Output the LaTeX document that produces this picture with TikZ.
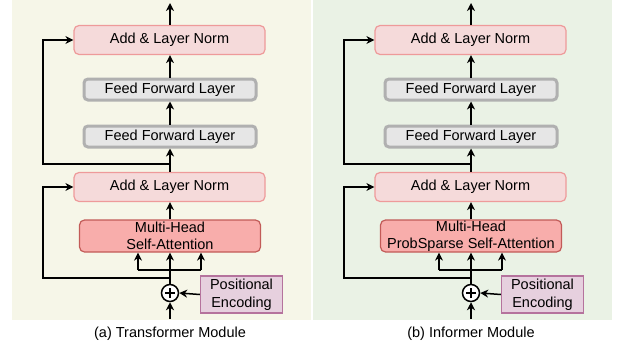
\documentclass[tikz,border=0pt]{standalone}
\usepackage{fontspec}
\setmainfont{Liberation Sans}
\usetikzlibrary{arrows.meta}
\definecolor{bgA}{HTML}{F6F6E8}
\definecolor{bgB}{HTML}{EAF2E5}
\definecolor{normfill}{HTML}{F5DADA}
\definecolor{normdraw}{HTML}{EE9A9A}
\definecolor{fflfill}{HTML}{E6E6E6}
\definecolor{ffldraw}{HTML}{B0B0B0}
\definecolor{mhafill}{HTML}{F8ADAB}
\definecolor{mhadraw}{HTML}{C25B58}
\definecolor{pefill}{HTML}{E6D0DE}
\definecolor{pedraw}{HTML}{B5739D}
\tikzset{
  x=1pt, y=-1pt,
  every node/.style={font=\fontsize{14.5}{17.5}\selectfont, inner sep=0pt, align=center},
  normbox/.style={draw=normdraw, fill=normfill, line width=1.2pt, rounded corners=5pt, minimum width=191pt, minimum height=29pt},
  fflbox/.style={draw=ffldraw, fill=fflfill, line width=3pt, rounded corners=4pt, minimum width=172pt, minimum height=21pt},
  mhabox/.style={draw=mhadraw, fill=mhafill, line width=1.2pt, rounded corners=5pt, minimum width=181pt, minimum height=32pt},
  pebox/.style={draw=pedraw, fill=pefill, line width=1.2pt, minimum width=82pt, minimum height=37pt},
  plusnode/.style={draw, circle, line width=1.5pt, minimum size=17pt, fill=white},
  arr/.style={-{Stealth[length=8pt,width=8pt,inset=2.5pt]}, line width=1.5pt},
  ln/.style={line width=1.5pt},
}
\begin{document}
\begin{tikzpicture}
\useasboundingbox (0,0) rectangle (618,351);
\fill[bgA] (12,0) rectangle (311,320);
\fill[bgB] (313,0) rectangle (612,320);

\foreach \dx/\p/\mt/\cap in {0/a/{Multi-Head\\Self-Attention}/{(a) Transformer Module},301/b/{Multi-Head\\ProbSparse Self-Attention}/{(b) Informer Module}}{
  \begin{scope}[xshift=\dx]
  \node[normbox] (\p top) at (169.5,40) {Add \& Layer Norm};
  \node[fflbox] (\p ffb) at (170,89.5) {Feed Forward Layer};
  \node[fflbox] (\p ffa) at (170,136.5) {Feed Forward Layer};
  \node[normbox] (\p bot) at (169.5,187) {Add \& Layer Norm};
  \node[mhabox] (\p mha) at (170,236) {\mt};
  \node[plusnode] (\p plus) at (170,293) {};
  \draw[line width=1.5pt] ([xshift=-5pt]\p plus.center) -- ([xshift=5pt]\p plus.center)
        ([yshift=-5pt]\p plus.center) -- ([yshift=5pt]\p plus.center);
  \node[pebox] (\p pe) at (241.5,294.5) {Positional\\Encoding};
  \node (\p cap) at (170,334) {\cap};
  \coordinate (\p out) at (170,3);
  \coordinate (\p in) at (170,319);
  \coordinate (\p j1) at (170,164);
  \coordinate (\p j2) at (170,278);
  \coordinate (\p bl) at (138,270);
  \coordinate (\p br) at (201,270);
  \draw[arr] (\p top.north -| \p out) -- (\p out);
  \draw[arr] (\p ffb.north) -- (\p top.south -| \p ffb.north);
  \draw[arr] (\p ffa.north) -- (\p ffb.south);
  \draw[arr] (\p bot.north -| \p ffa.south) -- (\p ffa.south);
  \draw[arr] (\p j1) -- (43,164) -- (43,40) -- (\p top.west);
  \draw[arr] (\p mha.north) -- (\p bot.south -| \p mha.north);
  \draw[arr] (\p plus.north) -- (\p mha.south -| \p plus.north);
  \draw[ln] (\p bl) -- (\p br);
  \draw[arr] (\p bl) -- (\p mha.south -| \p bl);
  \draw[arr] (\p br) -- (\p mha.south -| \p br);
  \draw[arr] (\p j2) -- (43,278) -- (43,187) -- (\p bot.west);
  \draw[arr] (\p pe.west) -- (\p plus.east);
  \draw[arr] (\p in) -- (\p plus.south);
  \end{scope}
}
\end{tikzpicture}
\end{document}
